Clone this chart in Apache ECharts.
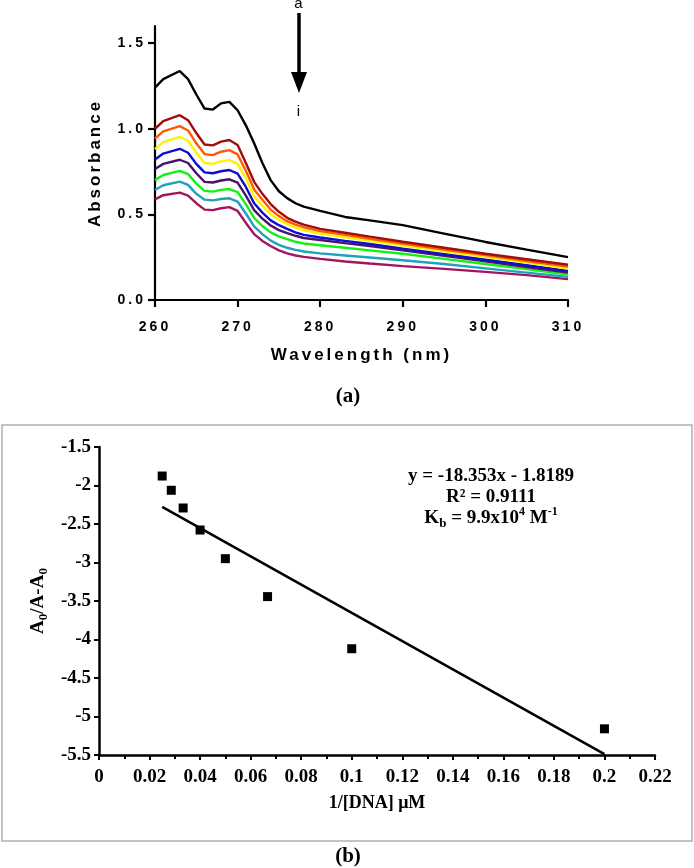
<!DOCTYPE html>
<html><head><meta charset="utf-8">
<script src="https://cdn.jsdelivr.net/npm/echarts@6/dist/echarts.min.js"></script>
<style>
html,body{margin:0;padding:0;background:#fff}
#wrap{position:relative;width:694px;height:868px}
#ca,#cb{position:absolute;left:0;top:0;width:694px;height:868px}
</style>
</head><body><div id="wrap"><div id="cb"></div><div id="ca"></div></div>
<script>
// ---------- data: panel (a) UV-Vis spectra ----------
const wavelengths = [260,261,263,264,265,266,267,268,269,270,271,272,273,274,275,276,277,278,280,283,286,290,295,300,305,310];
const specA = [1.24,1.29,1.337,1.29,1.20,1.118,1.112,1.148,1.157,1.108,1.02,0.915,0.80,0.70,0.635,0.595,0.565,0.545,0.52,0.485,0.465,0.437,0.388,0.339,0.294,0.25];
const specB = [1.00,1.045,1.079,1.05,0.975,0.908,0.903,0.925,0.934,0.905,0.80,0.69,0.62,0.56,0.515,0.48,0.458,0.44,0.415,0.393,0.37,0.34,0.305,0.27,0.238,0.206];
const specC = [0.943,0.985,1.015,0.99,0.915,0.852,0.846,0.866,0.875,0.85,0.755,0.645,0.585,0.528,0.49,0.46,0.44,0.425,0.402,0.38,0.358,0.33,0.295,0.262,0.228,0.195];
const specD = [0.881,0.922,0.953,0.93,0.86,0.80,0.795,0.81,0.817,0.795,0.71,0.605,0.55,0.50,0.468,0.442,0.423,0.408,0.388,0.366,0.345,0.318,0.285,0.252,0.218,0.184];
const specE = [0.821,0.855,0.883,0.86,0.795,0.745,0.74,0.752,0.759,0.738,0.66,0.565,0.51,0.465,0.437,0.415,0.395,0.38,0.365,0.345,0.327,0.30,0.268,0.236,0.203,0.17];
const specF = [0.765,0.795,0.819,0.80,0.74,0.69,0.686,0.698,0.705,0.685,0.61,0.525,0.475,0.435,0.408,0.39,0.375,0.362,0.35,0.332,0.315,0.29,0.258,0.226,0.193,0.16];
const specG = [0.70,0.73,0.754,0.735,0.68,0.637,0.633,0.643,0.648,0.63,0.56,0.48,0.432,0.395,0.372,0.355,0.34,0.33,0.32,0.305,0.29,0.27,0.24,0.21,0.18,0.148];
const specH = [0.642,0.67,0.691,0.672,0.62,0.586,0.582,0.59,0.594,0.575,0.505,0.43,0.385,0.347,0.322,0.305,0.293,0.283,0.272,0.26,0.248,0.232,0.21,0.185,0.16,0.135];
const specI = [0.588,0.612,0.627,0.61,0.565,0.528,0.525,0.536,0.542,0.52,0.45,0.385,0.345,0.315,0.29,0.272,0.26,0.252,0.24,0.225,0.213,0.198,0.182,0.164,0.145,0.122];
const curveNames = ['a','b','c','d','e','f','g','h','i'];
const absTicks = [0, 0.5, 1.0, 1.5];

// ---------- data: panel (b) binding plot ----------
const invDNA = [0.025, 0.0286, 0.0333, 0.04, 0.05, 0.0667, 0.1, 0.2];
const ratioA = [-1.877, -2.062, -2.292, -2.578, -2.95, -3.443, -4.12, -5.16];
const fitX = [0.025, 0.2];
const fitY = [-2.277, -5.489];

// ---------- styling ----------
const curveColors = ['#000000','#a00d0d','#ff5a00','#fff200','#0a0fd0','#4a1170','#14ef14','#1ea2bd','#a5145f'];
const SANS = 'Liberation Sans';
const SERIF = 'Liberation Serif';

// letter spacing for the GraphPad-style panel (a) text only (its own canvas)
(function(){
  const P = CanvasRenderingContext2D.prototype;
  const of = P.fillText;
  P.fillText = function(t, x, y, w){
    const inA = this.canvas && this.canvas.closest && this.canvas.closest('#ca');
    if (inA && ('letterSpacing' in this) && this.letterSpacing !== '3px') this.letterSpacing = '3px';
    return (w === undefined) ? of.call(this, t, x, y) : of.call(this, t, x, y, w);
  };
})();

const zip = (xs, ys) => xs.map((x, i) => [x, ys[i]]);
const spectra = [specA, specB, specC, specD, specE, specF, specG, specH, specI];

// ---------- panel (a) ----------
const seriesA = spectra.map((vals, k) => ({
  name: curveNames[k], type: 'line',
  data: zip(wavelengths, vals), showSymbol: false, symbol: 'none',
  lineStyle: { color: curveColors[k], width: 2.4 }, z: 10 - k
})).reverse();

const chartA = echarts.init(document.getElementById('ca'), null, { renderer: 'canvas' });
chartA.setOption({
  animation: false,
  backgroundColor: 'transparent',
  grid: { left: 155, right: 126, top: 26, height: 274 },
  xAxis: {
    type: 'value', min: 260, max: 310, interval: 10,
    axisLine: { lineStyle: { color: '#000', width: 2.2 } },
    axisTick: { length: 7, lineStyle: { color: '#000', width: 2.2 } },
    axisLabel: { fontFamily: SANS, fontWeight: 'bold', fontSize: 14, color: '#000', margin: 20 },
    splitLine: { show: false },
    name: 'Wavelength (nm)', nameLocation: 'middle', nameGap: 47,
    nameTextStyle: { fontFamily: SANS, fontWeight: 'bold', fontSize: 17, color: '#000' }
  },
  yAxis: {
    type: 'value', min: 0, max: 1.6,
    axisLine: { show: true, lineStyle: { color: '#000', width: 2.2 } },
    axisTick: { show: true, length: 7, customValues: absTicks, lineStyle: { color: '#000', width: 2.2 } },
    axisLabel: { fontFamily: SANS, fontWeight: 'bold', fontSize: 14, color: '#000', margin: 9,
      customValues: absTicks, formatter: v => v.toFixed(1) },
    splitLine: { show: false },
    name: 'Absorbance', nameLocation: 'middle', nameGap: 51,
    nameTextStyle: { fontFamily: SANS, fontWeight: 'bold', fontSize: 17, color: '#000' }
  },
  graphic: [
    { type: 'line', shape: { x1: 299, y1: 13, x2: 299, y2: 76 }, style: { stroke: '#000', lineWidth: 3.5 }, silent: true },
    { type: 'polygon', shape: { points: [[291, 72], [307, 72], [299, 93]] }, style: { fill: '#000' }, silent: true },
    { type: 'text', x: 300, y: 4, style: { text: 'a', font: '15px Arial', fill: '#000', align: 'center', verticalAlign: 'middle' }, silent: true },
    { type: 'text', x: 300, y: 112, style: { text: 'i', font: '15px Arial', fill: '#000', align: 'center', verticalAlign: 'middle' }, silent: true }
  ],
  series: seriesA
});

// ---------- panel (b) ----------
const chartB = echarts.init(document.getElementById('cb'), null, { renderer: 'canvas' });
chartB.setOption({
  animation: false,
  backgroundColor: '#fff',
  grid: { left: 99, right: 39, top: 447, height: 308 },
  xAxis: {
    type: 'value', min: 0, max: 0.22, interval: 0.02,
    axisLine: { lineStyle: { color: '#000', width: 2.5 } },
    axisTick: { length: 5, lineStyle: { color: '#000', width: 2 } },
    minorTick: { show: true, splitNumber: 2, length: 4, lineStyle: { color: '#000', width: 2 } },
    axisLabel: { fontFamily: SERIF, fontWeight: 'bold', fontSize: 19, color: '#000', margin: 13,
      formatter: v => String(parseFloat(v.toFixed(3))) },
    splitLine: { show: false },
    name: '1/[DNA] μM', nameLocation: 'middle', nameGap: 39,
    nameTextStyle: { fontFamily: SERIF, fontWeight: 'bold', fontSize: 18, color: '#000' }
  },
  yAxis: {
    type: 'value', min: -5.5, max: -1.5, interval: 0.5,
    axisLine: { show: true, lineStyle: { color: '#000', width: 2.5 } },
    axisTick: { show: true, length: 5, lineStyle: { color: '#000', width: 2 } },
    axisLabel: { fontFamily: SERIF, fontWeight: 'bold', fontSize: 19, color: '#000', margin: 8 },
    splitLine: { show: false },
    name: '{a|A}{s|0}{a|/A-A}{s|0}', nameLocation: 'middle', nameGap: 47,
    nameTextStyle: {
      rich: {
        a: { fontFamily: SERIF, fontWeight: 'bold', fontSize: 19, color: '#000', lineHeight: 24 },
        s: { fontFamily: SERIF, fontWeight: 'bold', fontSize: 13, color: '#000', lineHeight: 13, verticalAlign: 'bottom' }
      }
    }
  },
  graphic: [
    { type: 'rect', shape: { x: 2, y: 425, width: 690, height: 416 }, style: { fill: 'none', stroke: '#b0b0b0', lineWidth: 1.5 }, silent: true },
    { type: 'text', x: 348, y: 397, style: { text: '(a)', font: 'bold 21px "Liberation Serif"', fill: '#000', align: 'center', verticalAlign: 'middle' }, silent: true },
    { type: 'text', x: 348, y: 857, style: { text: '(b)', font: 'bold 21px "Liberation Serif"', fill: '#000', align: 'center', verticalAlign: 'middle' }, silent: true },
    { type: 'text', x: 491, y: 476, style: { text: 'y = -18.353x - 1.8189', font: 'bold 19px "Liberation Serif"', fill: '#000', align: 'center', verticalAlign: 'middle' }, silent: true },
    { type: 'text', x: 491, y: 497, style: { text: 'R² = 0.9111', font: 'bold 19px "Liberation Serif"', fill: '#000', align: 'center', verticalAlign: 'middle' }, silent: true },
    { type: 'text', x: 491, y: 518, style: {
        text: '{n|K}{sb|b}{n| = 9.9x10}{sp|4}{n| M}{sp|-1}', align: 'center', verticalAlign: 'middle',
        rich: {
          n: { fontFamily: SERIF, fontWeight: 'bold', fontSize: 19, fill: '#000', lineHeight: 24 },
          sb: { fontFamily: SERIF, fontWeight: 'bold', fontSize: 13, fill: '#000', lineHeight: 13, verticalAlign: 'bottom' },
          sp: { fontFamily: SERIF, fontWeight: 'bold', fontSize: 12, fill: '#000', lineHeight: 12, verticalAlign: 'top' }
        } }, silent: true }
  ],
  series: [
    { type: 'line', data: zip(fitX, fitY), showSymbol: false, symbol: 'none', lineStyle: { color: '#000', width: 2.5 } },
    { type: 'scatter', data: zip(invDNA, ratioA), symbol: 'rect', symbolSize: 9, itemStyle: { color: '#000', opacity: 1 } }
  ]
});
</script>
</body></html>
